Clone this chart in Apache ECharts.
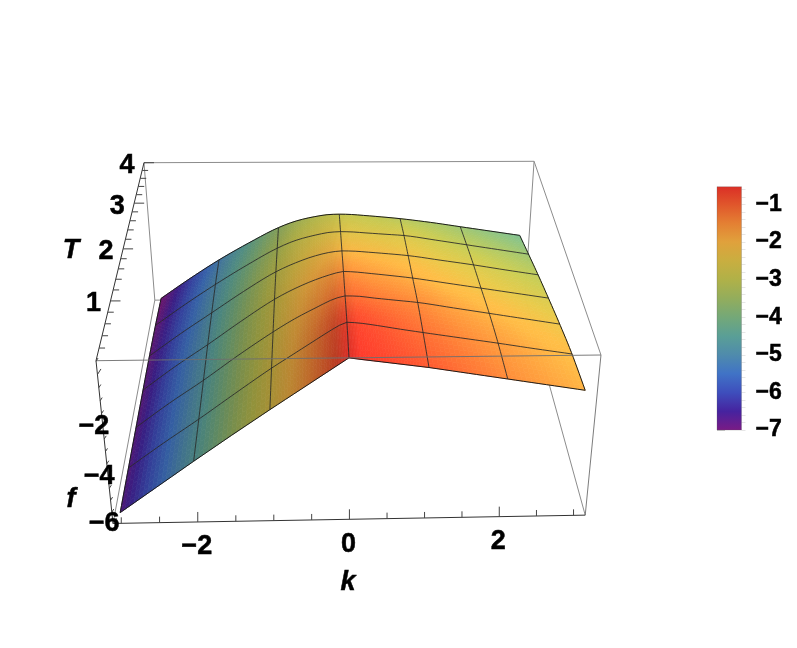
<!DOCTYPE html>
<html>
<head>
<meta charset="utf-8">
<style>html,body{margin:0;padding:0;background:#fff}#main{width:797px;height:648px}</style>
<script src="https://cdn.jsdelivr.net/npm/echarts@6/dist/echarts.min.js"></script>
</head>
<body>
<div id="main"></div>
<script>
// values
const kValues = [-3, -2.5, -2, -1.5, -1, -0.7, -0.4, -0.15, 0, 0.15, 0.4, 0.7, 1, 1.5, 2, 2.5, 3];
const tValues = [0, 0.667, 1.333, 2, 2.667, 3.333, 4];
const fT0 = [-5.58, -4.62, -3.66, -2.72, -1.80, -1.26, -0.72, -0.27, 0, -0.06, -0.15, -0.26, -0.37, -0.59, -0.81, -1.03, -1.25];
const fT1 = [-5.60, -4.64, -3.72, -2.76, -1.82, -1.30, -0.78, -0.36, -0.17, -0.20, -0.30, -0.44, -0.57, -0.78, -0.99, -1.21, -1.42];
const fT2 = [-5.63, -4.66, -3.76, -2.80, -1.90, -1.41, -0.99, -0.67, -0.56, -0.57, -0.65, -0.74, -0.83, -1.05, -1.27, -1.49, -1.71];
const fT3 = [-5.66, -4.69, -3.80, -2.87, -2.00, -1.58, -1.24, -1.02, -0.93, -0.95, -1.02, -1.11, -1.21, -1.42, -1.63, -1.84, -2.05];
const fT4 = [-5.70, -4.76, -3.88, -3.00, -2.20, -1.84, -1.56, -1.41, -1.37, -1.38, -1.43, -1.50, -1.58, -1.78, -1.98, -2.20, -2.41];
const fT5 = [-5.78, -4.86, -4.00, -3.20, -2.47, -2.14, -1.93, -1.81, -1.79, -1.80, -1.85, -1.91, -1.97, -2.17, -2.38, -2.59, -2.80];
const fT6 = [-5.92, -5.03, -4.20, -3.46, -2.79, -2.50, -2.32, -2.23, -2.22, -2.23, -2.28, -2.35, -2.43, -2.60, -2.80, -3.00, -3.20];
const fRows = [fT0, fT1, fT2, fT3, fT4, fT5, fT6];
const meshK = [-2, -1, 0, 1, 2];
const kTicks = [-2, 0, 2];
const tTicks = [1, 2, 3, 4];
const fTicks = [-2, -4, -6];
const legendTicks = [-7, -6, -5, -4, -3, -2, -1];
const legendValues = [-7, -6.5, -6, -5.5, -5, -4.5, -4, -3.5, -3, -2.5, -2, -1.5, -1, -0.53];
const legendColors = ['#7a1b85', '#46239f', '#3e4ebc', '#4073c6', '#4f8bac', '#5a9f96', '#74a878', '#93ad5c', '#b0b148', '#c9ae40', '#e0a13c', '#e47f33', '#e0552b', '#db2f26'];

const FONT = '"Liberation Sans", Arial, sans-serif';

// perspective of the box: k runs across, T goes back, f goes down
function projectUnit(u, v, w) {
    const den = 1 + 0.02 * u + 0.298 * v + 0.07 * w;
    return [(96 + 517 * u + 90.9 * v + 24.9 * w) / den, (360.7 + 1.4 * u - 149.5 * v + 199.4 * w) / den];
}
function project(k, t, f) {
    return projectUnit(0.496 + 0.1596 * k, t / 4, -f / 6);
}
// f axis scale on the left edge does not start at the top of the box
function fAxisPoint(f) {
    return projectUnit(0, 0, 0.08 - f / 6.5);
}

// monotone cubic between the read values, only to draw the surface smoothly
function between(xs, ys, x, straight) {
    let i = 0;
    while (i < xs.length - 2 && x > xs[i + 1]) i++;
    const h = xs[i + 1] - xs[i], r = (x - xs[i]) / h;
    const d = (ys[i + 1] - ys[i]) / h;
    if (straight) return ys[i] + d * (x - xs[i]);
    const dl = i > 0 ? (ys[i] - ys[i - 1]) / (xs[i] - xs[i - 1]) : d;
    const dr = i < xs.length - 2 ? (ys[i + 2] - ys[i + 1]) / (xs[i + 2] - xs[i + 1]) : d;
    const m0 = dl * d <= 0 ? 0 : 2 * dl * d / (dl + d);
    const m1 = dr * d <= 0 ? 0 : 2 * dr * d / (dr + d);
    const r2 = r * r, r3 = r2 * r;
    return (2 * r3 - 3 * r2 + 1) * ys[i] + (r3 - 2 * r2 + r) * h * m0 + (3 * r2 - 2 * r3) * ys[i + 1] + (r3 - r2) * h * m1;
}
function fAt(k, t) {
    const col = fRows.map((row, j) => between(kValues, row, k, j === 0));
    return between(tValues, col, t, false);
}

const stops = legendColors.map(c => echarts.color.parse(c));
function colorMap(value) {
    if (value <= legendValues[0]) return stops[0];
    for (let i = 1; i < legendValues.length; i++) {
        if (value <= legendValues[i]) {
            const r = (value - legendValues[i - 1]) / (legendValues[i] - legendValues[i - 1]);
            return [0, 1, 2].map(n => stops[i - 1][n] + (stops[i][n] - stops[i - 1][n]) * r);
        }
    }
    return stops[stops.length - 1];
}
// surface is coloured by f and lit more on the falling side
function nodeShade(i, j) {
    const a = Math.max(i - 1, 0), b = Math.min(i + 1, kValues.length - 1);
    const slope = (fRows[j][b] - fRows[j][a]) / (kValues[b] - kValues[a]);
    return 1.1 - 0.15 * slope;
}
function surfaceColor(f, shade) {
    const c = colorMap(1.12 * f - 0.5);
    return 'rgb(' + c.slice(0, 3).map(x => Math.min(255, Math.round(x * shade))).join(',') + ')';
}

const SUB = 8;
const cells = [];
for (let i = 0; i < kValues.length - 1; i++) {
    for (let j = 0; j < tValues.length - 1; j++) cells.push([i, j]);
}

function renderCell(params, api) {
    const i = api.value(0), j = api.value(1);
    const k0 = kValues[i], k1 = kValues[i + 1], t0 = tValues[j], t1 = tValues[j + 1];
    const s00 = nodeShade(i, j), s10 = nodeShade(i + 1, j), s01 = nodeShade(i, j + 1), s11 = nodeShade(i + 1, j + 1);
    const mix = (a, b, c, d, x, y) => a * (1 - x) * (1 - y) + b * x * (1 - y) + c * (1 - x) * y + d * x * y;
    const grid = [];
    for (let a = 0; a <= SUB; a++) {
        grid.push([]);
        for (let b = 0; b <= SUB; b++) {
            const k = k0 + (k1 - k0) * a / SUB, t = t0 + (t1 - t0) * b / SUB;
            grid[a].push(project(k, t, fAt(k, t)));
        }
    }
    const children = [];
    for (let a = 0; a < SUB; a++) {
        for (let b = 0; b < SUB; b++) {
            const mx = (a + 0.5) / SUB, my = (b + 0.5) / SUB;
            const f = fAt(k0 + (k1 - k0) * mx, t0 + (t1 - t0) * my);
            const col = surfaceColor(f, mix(s00, s10, s01, s11, mx, my));
            children.push({
                type: 'polygon',
                shape: { points: [grid[a][b], grid[a + 1][b], grid[a + 1][b + 1], grid[a][b + 1]] },
                style: { fill: col, stroke: col, lineWidth: 0.7 }
            });
        }
    }
    return { type: 'group', children: children };
}

// mesh and outline of the surface
const meshLines = [];
tValues.forEach((t, j) => {
    const pts = [];
    for (let n = -30; n <= 30; n++) pts.push(project(n / 10, t, fAt(n / 10, t)));
    meshLines.push({ points: pts, edge: j === 0 || j === tValues.length - 1 });
});
function kLine(k, edge) {
    const pts = [];
    for (let n = 0; n <= 40; n++) pts.push(project(k, n / 10, fAt(k, n / 10)));
    meshLines.push({ points: pts, edge: edge });
}
meshK.forEach(k => kLine(k, false));
kLine(kValues[0], true);
kLine(kValues[kValues.length - 1], true);

// box edges, corners given as [u, v, w]
const backEdges = [
    [[0, 1, 0], [1, 1, 0]], [[0, 1, 0], [0, 1, 1]], [[1, 1, 0], [1, 1, 1]],
    [[0, 1, 1], [1, 1, 1]], [[0, 1, 1], [0, 0, 1]], [[1, 1, 1], [1, 0, 1]], [[1, 1, 0], [1, 0, 0]]
];
const frontEdges = [[[0, 0, 0], [1, 0, 0]], [[1, 0, 0], [1, 0, 1]]];
const blackEdges = [[[0, 0, 0], [0, 1, 0]], [[0, 0, 0], [0, 0, 1]], [[0, 0, 1], [1, 0, 1]]];

function edgeLines(list, color, width) {
    return {
        type: 'custom', coordinateSystem: 'none', silent: true, animation: false,
        data: list.map((e, n) => [n]),
        renderItem: (params, api) => {
            const e = list[api.value(0)];
            const a = projectUnit.apply(null, e[0]), b = projectUnit.apply(null, e[1]);
            return { type: 'line', shape: { x1: a[0], y1: a[1], x2: b[0], y2: b[1] }, style: { stroke: color, lineWidth: width } };
        }
    };
}

// axis ticks
const tickSegs = [];
for (let n = -6; n <= 6; n++) {
    const k = n * 0.5, p = project(k, 0, -6), len = n % 4 === 0 ? 10 : 6;
    tickSegs.push([p, [p[0], p[1] - len]]);
}
for (let n = 1; n <= 20; n++) {
    const p = projectUnit(0, n * 0.05, 0), len = n % 5 === 0 ? 10 : 6;
    tickSegs.push([p, [p[0] + len, p[1]]]);
}
for (let n = 0; n <= 13; n++) {
    const p = fAxisPoint(0.5 - n * 0.5), len = n % 4 === 1 ? 7 : 4;
    tickSegs.push([p, [p[0] + len * 0.5, p[1] - len * 0.8]]);
}

// tick and axis labels
const labels = [];
kTicks.forEach(k => {
    const p = project(k, 0, -6);
    labels.push({ x: p[0] - 1, y: p[1] + 25, text: String(k).replace('-', '\u2212'), style: 'normal' });
});
tTicks.forEach(t => {
    const p = projectUnit(0, t / 4, 0);
    labels.push({ x: p[0] - 17, y: p[1] + 3, text: String(t), style: 'normal' });
});
fTicks.forEach(f => {
    const p = fAxisPoint(f);
    labels.push({ x: p[0] - 9, y: p[1], text: String(f).replace('-', '\u2212'), style: 'normal' });
});
labels.push({ x: 71, y: 251, text: 'T', style: 'italic' });
labels.push({ x: 71, y: 500, text: 'f', style: 'italic' });
labels.push({ x: 348, y: 583, text: 'k', style: 'italic' });

const minorLegendTicks = [];
for (let n = 0; n <= 32; n++) minorLegendTicks.push(-7 + n * 0.2);

const chart = echarts.init(document.getElementById('main'));
chart.setOption({
    animation: false,
    backgroundColor: '#fff',
    grid: { left: 717, top: 186.7, width: 24.5, height: 243.3 },
    xAxis: { type: 'value', min: 0, max: 1, show: false },
    yAxis: [
        {
            type: 'value', position: 'right', min: -7, max: -0.53, splitLine: { show: false },
            axisLine: { show: false },
            axisTick: { show: true, length: 8, customValues: legendTicks, lineStyle: { color: '#ccc' } },
            axisLabel: {
                show: true, margin: 14, customValues: legendTicks,
                formatter: v => '\u2212' + Math.abs(v),
                fontFamily: FONT, fontWeight: 'bold', fontSize: 23, color: '#000',
                textBorderColor: '#000', textBorderWidth: 0.5
            }
        },
        {
            type: 'value', position: 'right', min: -7, max: -0.53, splitLine: { show: false },
            axisLine: { show: false }, axisLabel: { show: false },
            axisTick: { show: true, length: 4, customValues: minorLegendTicks, lineStyle: { color: '#e6e6e6' } }
        }
    ],
    series: [
        edgeLines(backEdges, '#8c8c8c', 1),
        {
            type: 'custom', coordinateSystem: 'none', silent: true, animation: false,
            data: cells, renderItem: renderCell
        },
        {
            type: 'custom', coordinateSystem: 'none', silent: true, animation: false,
            data: meshLines.map((m, n) => [n]),
            renderItem: (params, api) => {
                const m = meshLines[api.value(0)];
                return { type: 'polyline', shape: { points: m.points }, style: { fill: null, stroke: m.edge ? '#1c1c1c' : 'rgba(40,40,40,0.85)', lineWidth: 1 } };
            }
        },
        edgeLines(frontEdges, 'rgba(110,110,110,0.9)', 1),
        edgeLines(blackEdges, '#333', 1),
        {
            type: 'custom', coordinateSystem: 'none', silent: true, animation: false,
            data: tickSegs.map((s, n) => [n]),
            renderItem: (params, api) => {
                const s = tickSegs[api.value(0)];
                return { type: 'line', shape: { x1: s[0][0], y1: s[0][1], x2: s[1][0], y2: s[1][1] }, style: { stroke: '#444', lineWidth: 1 } };
            }
        },
        {
            type: 'custom', coordinateSystem: 'none', silent: true, animation: false,
            data: labels.map((s, n) => [n]),
            renderItem: (params, api) => {
                const l = labels[api.value(0)];
                return {
                    type: 'text', x: l.x, y: l.y,
                    style: { text: l.text, fill: '#000', stroke: '#000', lineWidth: 0.5, font: l.style + ' bold 27px ' + FONT, align: 'center', verticalAlign: 'middle' }
                };
            }
        },
        {
            type: 'custom', coordinateSystem: 'cartesian2d', silent: true, animation: false,
            data: [[0, -7, 1, -0.53]],
            renderItem: (params, api) => {
                const a = api.coord([api.value(0), api.value(1)]), b = api.coord([api.value(2), api.value(3)]);
                const gradient = new echarts.graphic.LinearGradient(0, 1, 0, 0, legendValues.map((v, n) => ({
                    offset: (v + 7) / 6.47, color: legendColors[n]
                })));
                return {
                    type: 'rect',
                    shape: { x: a[0], y: b[1], width: b[0] - a[0], height: a[1] - b[1] },
                    style: { fill: gradient, stroke: 'rgba(90,90,90,0.5)', lineWidth: 0.5 }
                };
            }
        }
    ]
});
</script>
</body>
</html>
